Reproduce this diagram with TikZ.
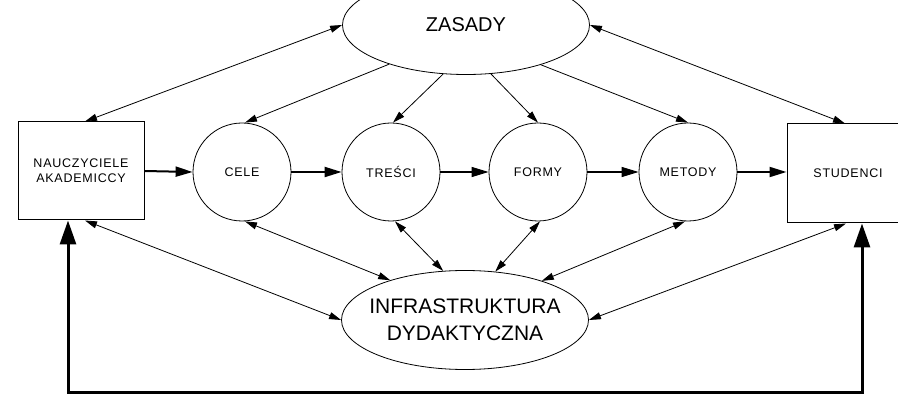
\documentclass[tikz,border=0pt]{standalone}
\usepackage{fontspec}
\setmainfont{Liberation Sans}
\newfontfamily\labelfam[LetterSpace=6]{Liberation Sans}
\usetikzlibrary{arrows.meta,shapes.geometric}
\begin{document}
\begin{tikzpicture}[x=1pt,y=-1pt,
  every node/.style={inner sep=0pt, align=center},
  bigfont/.style={font=\fontsize{21}{26.5}\selectfont},
  smallfont/.style={font=\labelfam\fontsize{12.5}{15}\selectfont},
  oval/.style={ellipse, draw, line width=0.8pt, inner sep=-14pt, minimum width=247pt, minimum height=99pt, bigfont},
  disc/.style={circle, draw, line width=0.8pt, minimum size=98pt, smallfont},
  blockbox/.style={rectangle, draw, line width=1pt, smallfont},
  link/.style={line width=0.8pt, -{Triangle[length=12pt,width=7pt]}},
  dlink/.style={line width=0.8pt, {Triangle[length=12pt,width=7pt]}-{Triangle[length=12pt,width=7pt]}},
  flow/.style={line width=2pt, -{Triangle[length=17pt,width=10pt]}},
  thinflow/.style={line width=1.3pt, -{Triangle[length=17pt,width=10pt]}},
  feedback/.style={line width=3pt, {Triangle[length=24pt,width=16pt]}-{Triangle[length=24pt,width=16pt]}}
]
\useasboundingbox (0,0) rectangle (898,395);
\clip (0,0) rectangle (898,395);

% principles and infrastructure
\node[oval, font=\fontsize{20}{24}\selectfont] (zasady) at (466,25) {ZASADY};
\node[oval] (infra) at (465,320) {INFRASTRUKTURA\\DYDAKTYCZNA};

% teachers and students
\node[blockbox, minimum width=126pt, minimum height=98pt] (nauk) at (81,171) {NAUCZYCIELE\\AKADEMICCY};
\node[blockbox, minimum width=122pt, minimum height=99pt] (stud) at (848,173.5) {STUDENCI};

% components of the teaching process
\node[disc] (cele) at (242,172) {CELE};
\node[disc] (tresci) at (391,172) {TREŚCI};
\node[disc] (formy) at (538,172) {FORMY};
\node[disc] (metody) at (688,172) {METODY};

% main chain
\draw[flow] (nauk.east) -- (cele.west);
\draw[flow] (cele.east) -- (tresci.west);
\draw[thinflow] (tresci.east) -- (formy.west);
\draw[thinflow] (formy.east) -- (metody.west);
\draw[flow] (metody.east) -- (stud.west |- metody.east);

% links from the principles
\draw[dlink] (zasady.west) -- ([xshift=4pt]nauk.north);
\draw[link] (zasady.207.8) -- ([xshift=3pt]cele.north);
\draw[link] (zasady.245) -- ([xshift=2pt]tresci.north);
\draw[link] (zasady.297) -- (formy.north);
\draw[link] (zasady.332.5) -- (metody.north);
\draw[dlink] (zasady.east) -- ([xshift=-3pt]stud.north);

% links with the infrastructure
\draw[dlink] ([xshift=4pt]nauk.south) -- (infra.west);
\draw[dlink] ([xshift=3pt]cele.south) -- (infra.152);
\draw[dlink] ([xshift=4pt]tresci.south) -- (infra.114);
\draw[dlink] ([xshift=2pt]formy.south) -- (infra.58);
\draw[dlink] ([xshift=-3pt]metody.south) -- (infra.27);
\draw[dlink] ([xshift=-2pt]stud.south) -- (infra.east);

% feedback loop from students back to teachers
\coordinate (fbL) at (68,393);
\coordinate (fbR) at (862,393);
\draw[feedback, line join=miter] (nauk.south -| fbL) -- (fbL) -- (fbR) -- (stud.south -| fbR);
\end{tikzpicture}
\end{document}
